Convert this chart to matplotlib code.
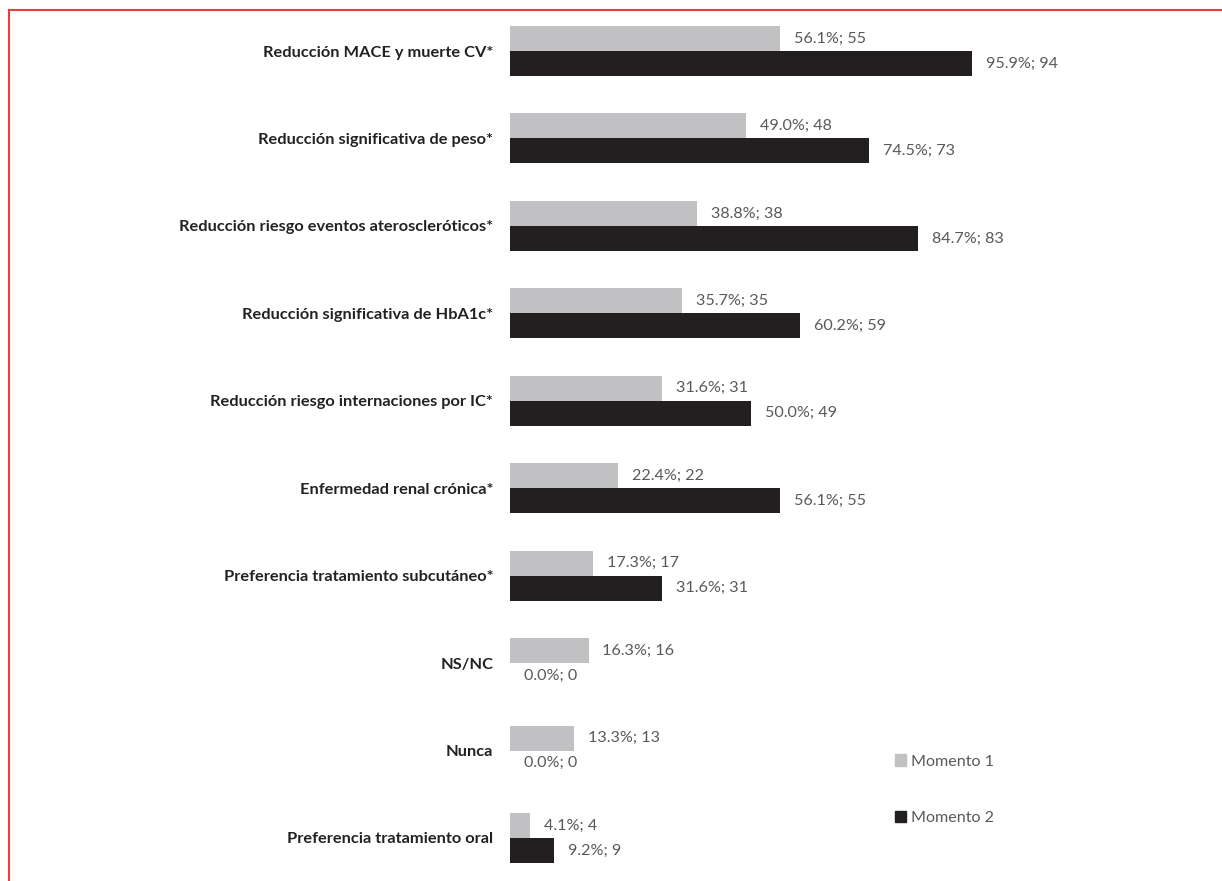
import numpy as np
import matplotlib.pyplot as plt
from matplotlib.patches import Patch

categories = [
    'Reducción MACE y muerte CV*',
    'Reducción significativa de peso*',
    'Reducción riesgo eventos ateroscleróticos*',
    'Reducción significativa de HbA1c*',
    'Reducción riesgo internaciones por IC*',
    'Enfermedad renal crónica*',
    'Preferencia tratamiento subcutáneo*',
    'NS/NC',
    'Nunca',
    'Preferencia tratamiento oral',
]
pct_m1 = [56.1, 49.0, 38.8, 35.7, 31.6, 22.4, 17.3, 16.3, 13.3, 4.1]
n_m1 = [55, 48, 38, 35, 31, 22, 17, 16, 13, 4]
pct_m2 = [95.9, 74.5, 84.7, 60.2, 50.0, 56.1, 31.6, 0.0, 0.0, 9.2]
n_m2 = [94, 73, 83, 59, 49, 55, 31, 0, 0, 9]

grey = '#c1c1c3'
black = '#231f20'
txt = '#595959'

plt.rcParams['font.family'] = ['Lato', 'DejaVu Sans']

fig = plt.figure(figsize=(12.22, 8.81), dpi=100)
ax = fig.add_axes([510 / 1222, -0.0008, 482 / 1222, 0.9925])

y = np.arange(len(categories))
h = 0.286
ax.barh(y - h / 2, pct_m1, height=h, color=grey, label='Momento 1')
ax.barh(y + h / 2, pct_m2, height=h, color=black, label='Momento 2')

for i in range(len(categories)):
    ax.annotate(f'{pct_m1[i]:.1f}%; {n_m1[i]}', (pct_m1[i], y[i] - h / 2),
                xytext=(10, 0), textcoords='offset points', va='center',
                ha='left', fontsize=11.6, color=txt, annotation_clip=False)
    ax.annotate(f'{pct_m2[i]:.1f}%; {n_m2[i]}', (pct_m2[i], y[i] + h / 2),
                xytext=(10, 0), textcoords='offset points', va='center',
                ha='left', fontsize=11.6, color=txt, annotation_clip=False)

ax.set_xlim(0, 100)
ax.set_ylim(len(categories) - 0.5, -0.5)
ax.set_yticks(y)
ax.set_yticklabels(categories, fontsize=11.8, fontweight='bold', color='#222222')
ax.tick_params(axis='y', length=0, pad=12)
ax.set_xticks([])
for s in ax.spines.values():
    s.set_visible(False)

handles = [Patch(color=grey), Patch(color=black)]
fig.legend(handles, ['Momento 1', 'Momento 2'], loc='upper left',
           bbox_to_anchor=(880 / 1222, 1 - 740 / 881), frameon=False,
           fontsize=11.6, labelcolor=txt, handlelength=0.7, handleheight=0.7,
           handletextpad=0.3, labelspacing=2.6)

# red frame lines (top and left)
fig.add_artist(plt.Line2D([9 / 1222, 1], [1 - 10 / 881] * 2, color='#ee3b3b', lw=1.5))
fig.add_artist(plt.Line2D([9 / 1222] * 2, [0, 1 - 10 / 881], color='#ee3b3b', lw=1.5))

fig.savefig('out.png', dpi=100)
